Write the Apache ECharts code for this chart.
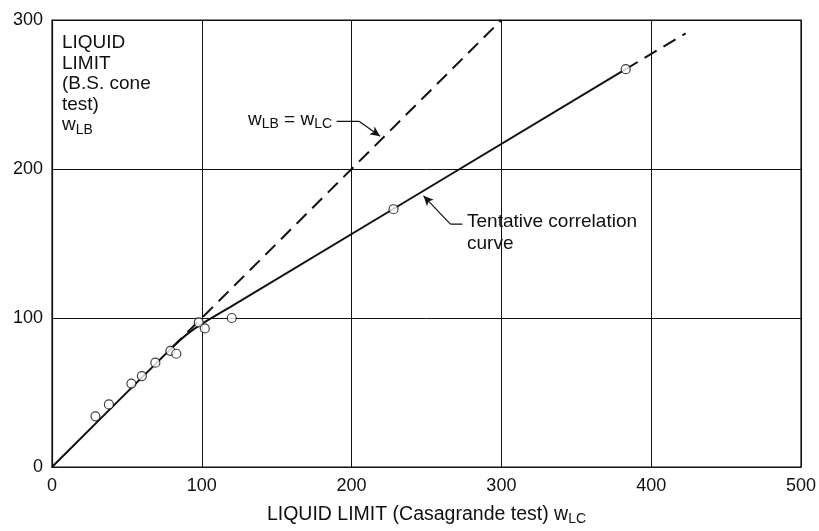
<!DOCTYPE html>
<html><head><meta charset="utf-8">
<script src="https://cdn.jsdelivr.net/npm/echarts@6/dist/echarts.min.js"></script>
<style>html,body{margin:0;padding:0;background:#fff}#c{width:819px;height:531px}</style>
</head><body><div id="c"></div>
<script>
// Observed data points (w_LC, w_LB)
const pointsX = [29, 38, 53, 60, 69, 79, 83, 98, 102, 120, 228, 383];
const pointsY = [34, 42, 56, 61, 70, 78, 76, 97, 93, 100, 173, 267];
// Tentative correlation curve (solid part)
const curveX = [0, 80, 90, 100, 120, 383];
const curveY = [0, 80, 89, 96, 108, 267];
// Extrapolated dashed part of the curve
const curveExtX = [383, 423];
const curveExtY = [267, 291];
// Equality line w_LB = w_LC
const eqX = [80, 300];
const eqY = [80, 300];
// Axis ticks
const xTicks = [0, 100, 200, 300, 400, 500];
const yTicks = [0, 100, 200, 300];
// Annotation leader lines (data coordinates)
const lead1X = [190, 205, 219];
const lead1Y = [232, 232, 222];
const lead2X = [274, 266, 248];
const lead2Y = [163, 163, 182];

const zip = (a, b) => a.map((v, i) => [v, b[i]]);
const font = '"Liberation Sans", Arial, sans-serif';
const black = '#111';
const subRich = {
  w: { fontSize: 19, fontFamily: font, fill: black, color: black },
  s: { fontSize: 14, fontFamily: font, fill: black, color: black, padding: [9, 0, 0, 0] }
};

const chart = echarts.init(document.getElementById('c'));
chart.setOption({
  animation: false,
  backgroundColor: '#fff',
  grid: { left: 52, right: 17, top: 20, bottom: 59, show: true, borderColor: black, borderWidth: 1.2 },
  xAxis: {
    type: 'value', min: 0, max: 500, interval: 100,
    axisLine: { lineStyle: { color: black, width: 1.2 } },
    axisTick: { show: false },
    splitLine: { show: true, lineStyle: { color: black, width: 1 } },
    axisLabel: { color: black, fontSize: 18, fontFamily: font, margin: 10 },
    name: '{w|LIQUID LIMIT (Casagrande test) w}{s|LC}',
    nameLocation: 'middle', nameGap: 36,
    nameTextStyle: { rich: {
      w: { fontSize: 19.5, fontFamily: font, color: black },
      s: { fontSize: 14, fontFamily: font, color: black, padding: [9, 0, 0, 0] }
    } }
  },
  yAxis: {
    type: 'value', min: 0, max: 300, interval: 100,
    axisLine: { show: true, lineStyle: { color: black, width: 1.2 } },
    axisTick: { show: false },
    splitLine: { show: true, lineStyle: { color: black, width: 1 } },
    axisLabel: { color: black, fontSize: 18, fontFamily: font, margin: 9 }
  },
  graphic: [
    { type: 'text', left: 62, top: 33, style: {
      text: 'LIQUID\nLIMIT\n(B.S. cone\ntest)\n{w|w}{s|LB}',
      fill: black, font: '19px ' + font, lineHeight: 20.5, rich: subRich
    } },
    { type: 'text', left: 248, top: 110, style: {
      text: '{w|w}{s|LB}{w| = w}{s|LC}',
      fill: black, font: '19px ' + font, rich: subRich
    } },
    { type: 'text', left: 467, top: 211, style: {
      text: 'Tentative correlation\ncurve', fill: black, font: '19px ' + font, lineHeight: 22
    } }
  ],
  series: [
    { type: 'line', data: zip(curveX, curveY), showSymbol: false, smooth: 0.3,
      lineStyle: { color: black, width: 2 }, z: 3 },
    { type: 'line', data: zip(curveExtX, curveExtY), showSymbol: false,
      lineStyle: { color: black, width: 2, type: [14, 8] }, z: 3 },
    { type: 'line', data: zip(eqX, eqY), showSymbol: false,
      lineStyle: { color: black, width: 2, type: [14, 8] }, z: 3 },
    { type: 'line', data: zip(lead1X.slice(0, 2), lead1Y.slice(0, 2)), showSymbol: false,
      lineStyle: { color: black, width: 1.2 }, z: 4,
      markLine: { silent: true, symbol: ['none', 'arrow'], symbolSize: [7, 10], label: { show: false },
        lineStyle: { color: black, width: 1.2, type: 'solid' },
        data: [[{ coord: [lead1X[1], lead1Y[1]] }, { coord: [lead1X[2], lead1Y[2]] }]] } },
    { type: 'line', data: zip(lead2X.slice(0, 2), lead2Y.slice(0, 2)), showSymbol: false,
      lineStyle: { color: black, width: 1.2 }, z: 4,
      markLine: { silent: true, symbol: ['none', 'arrow'], symbolSize: [7, 10], label: { show: false },
        lineStyle: { color: black, width: 1.2, type: 'solid' },
        data: [[{ coord: [lead2X[1], lead2Y[1]] }, { coord: [lead2X[2], lead2Y[2]] }]] } },
    { type: 'scatter', data: zip(pointsX, pointsY), symbol: 'circle', symbolSize: 9,
      itemStyle: { color: '#fff', borderColor: black, borderWidth: 1.2 }, z: 5 }
  ]
});
</script></body></html>
